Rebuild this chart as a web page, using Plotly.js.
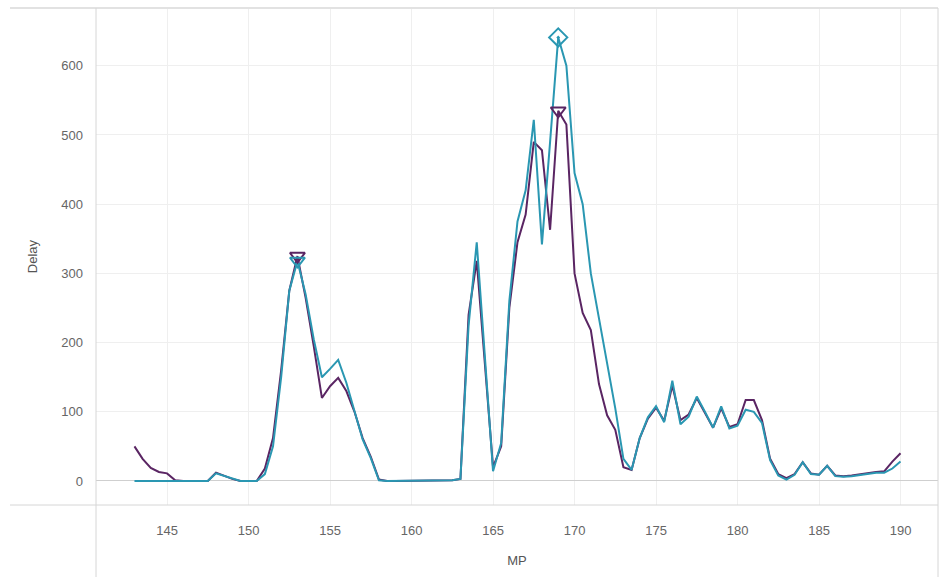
<!DOCTYPE html>
<html>
<head>
<meta charset="utf-8">
<script src="https://cdn.plot.ly/plotly-3.0.1.min.js"></script>
<style>html,body{margin:0;padding:0;background:#fff;}#chart{width:947px;height:577px;}</style>
</head>
<body>
<div id="chart"></div>
<script>
const MP = [143,143.5,144,144.5,145,145.5,146,146.5,147,147.5,148,148.5,149,149.5,150,150.5,151,151.5,152,152.5,153,153.5,154,154.5,155,155.5,156,156.5,157,157.5,158,158.5,159,159.5,160,160.5,161,161.5,162,162.5,163,163.5,164,164.5,165,165.5,166,166.5,167,167.5,168,168.5,169,169.5,170,170.5,171,171.5,172,172.5,173,173.5,174,174.5,175,175.5,176,176.5,177,177.5,178,178.5,179,179.5,180,180.5,181,181.5,182,182.5,183,183.5,184,184.5,185,185.5,186,186.5,187,187.5,188,188.5,189,189.5,190];

const delayPurple = [50,32,19,13,11,1,0,0,0,0,12,7,3,0,0,0,18,62,160,275,325,265,195,120,137,149,130,100,62,35,2,0,0,0,0,0,0,0,0,1,3,240,318,170,20,50,250,345,385,490,478,363,535,515,300,243,218,140,95,74,20,16,62,90,106,87,138,88,96,120,98,77,105,78,82,117,117,88,32,10,4,10,27,11,9,22,8,7,8,10,12,13,14,28,40];

const delayTeal = [0,0,0,0,0,0,0,0,0,0,11,7,3,0,0,0,10,50,150,275,318,270,205,150,162,175,142,100,60,33,1,0,0,0,0,0,0,0,0,1,3,225,345,180,14,55,260,375,420,522,342,490,641,600,445,400,300,235,170,105,32,16,62,92,108,85,145,82,93,122,100,77,108,76,80,103,100,84,30,8,2,9,27,10,9,22,7,6,7,9,11,12,12,18,28];

const xTicks = [145,150,155,160,165,170,175,180,185,190];
const yTicks = [0,100,200,300,400,500,600];

// peak positions (MP) that carry markers
const purplePeaks = [153, 169];
const tealPeaksTri = [153];
const tealPeaksDia = [169];

const purple = '#5a2563';
const teal = '#2a97b2';

function pick(xs, series){ return xs.map(v => series[MP.indexOf(v)]); }

const traces = [
  {x: MP, y: delayPurple, type:'scatter', mode:'lines', line:{color:purple, width:2}, hoverinfo:'x+y'},
  {x: MP, y: delayTeal, type:'scatter', mode:'lines', line:{color:teal, width:2}, hoverinfo:'x+y'},
  {x: purplePeaks, y: pick(purplePeaks, delayPurple), type:'scatter', mode:'markers',
   marker:{symbol:'triangle-down-open', size:13, color:purple, line:{width:2, color:purple}}},
  {x: tealPeaksTri, y: pick(tealPeaksTri, delayTeal), type:'scatter', mode:'markers',
   marker:{symbol:'triangle-down-open', size:13, color:teal, line:{width:2, color:teal}}},
  {x: tealPeaksDia, y: pick(tealPeaksDia, delayTeal), type:'scatter', mode:'markers',
   marker:{symbol:'diamond-open-dot', size:14, color:teal, line:{width:2, color:teal}}}
];

const W = 947, H = 577, L = 96, R = 9, T = 8, B = 72;
const pw = W - L - R, ph = H - T - B;
const frame = '#d6d6d6';

const layout = {
  width: W, height: H,
  margin: {l: L, r: R, t: T, b: B, pad: 0},
  paper_bgcolor: '#fff', plot_bgcolor: '#fff',
  showlegend: false,
  font: {family: '"Liberation Sans", Arial, sans-serif', size: 13, color: '#666'},
  xaxis: {
    range: [140.64, 192.3], tickvals: xTicks, ticktext: xTicks.map(String),
    showgrid: true, gridcolor: '#efefef', gridwidth: 1, zeroline: false,
    ticks: '', ticklabelstandoff: 16, showline: false,
    tickfont: {size: 13, color: '#666'},
    title: {text: 'MP', font: {size: 13, color: '#555'}, standoff: 18}
  },
  yaxis: {
    range: [-34.7, 683.5], tickvals: yTicks, ticktext: yTicks.map(String),
    showgrid: true, gridcolor: '#efefef', gridwidth: 1,
    zeroline: true, zerolinecolor: '#cfcfcf', zerolinewidth: 1,
    ticks: '', ticklabelstandoff: 12, showline: false,
    tickfont: {size: 13, color: '#666'},
    title: {text: 'Delay', font: {size: 13, color: '#555'}, standoff: 20}
  },
  shapes: [
    {type:'line', xref:'paper', yref:'paper', x0:(10-L)/pw, x1:1, y0:1, y1:1, line:{color:'#e2e2e2', width:2}},
    {type:'line', xref:'paper', yref:'paper', x0:(10-L)/pw, x1:1, y0:0, y1:0, line:{color:frame, width:1}},
    {type:'line', xref:'paper', yref:'paper', x0:0, x1:0, y0:1, y1:-(B)/ph, line:{color:frame, width:1}},
    {type:'line', xref:'paper', yref:'paper', x0:1, x1:1, y0:1, y1:-(B)/ph, line:{color:frame, width:1}}
  ]
};

Plotly.newPlot('chart', traces, layout, {displayModeBar: false, staticPlot: true});
</script>
</body>
</html>
